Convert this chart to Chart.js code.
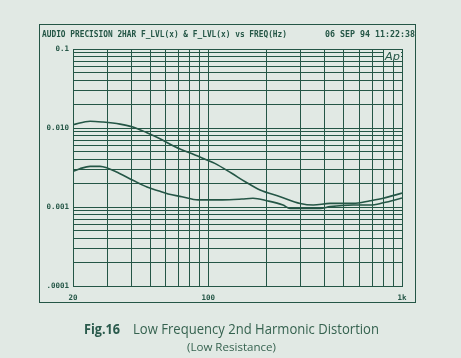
<!DOCTYPE html>
<html>
<head>
<meta charset="utf-8">
<script src="https://cdn.jsdelivr.net/npm/chart.js@4/dist/chart.umd.min.js"></script>
<style>
  html, body { margin: 0; padding: 0; background: #e1e9e4; }
  canvas { display: block; }
</style>
</head>
<body>
<canvas id="thd" width="461" height="358"></canvas>
<script>
// upper trace
const freqA = [20, 24.5, 28.6, 35, 40.8, 48.2, 56.3, 67.3, 85.3, 108, 132, 155, 185, 235, 298, 348, 425, 560, 685, 800, 1000];
const levelA = [0.0110, 0.0122, 0.0119, 0.0112, 0.0103, 0.0087, 0.0073, 0.0058, 0.00455, 0.00357, 0.00267, 0.00209, 0.00164, 0.00135, 0.00111, 0.00106, 0.00111, 0.00111, 0.0012, 0.00129, 0.0015];

// lower trace
const freqB = [20, 21.7, 24.5, 27.6, 30, 35, 40.8, 48.2, 56.3, 62, 73, 88.5, 118, 149, 170, 201, 243, 264, 378, 425, 560, 685, 800, 1000];
const levelB = [0.00283, 0.00305, 0.00327, 0.00327, 0.00312, 0.00264, 0.00218, 0.00179, 0.00158, 0.00146, 0.00135, 0.00123, 0.00123, 0.00126, 0.00129, 0.0012, 0.00106, 0.00096, 0.00096, 0.00101, 0.00106, 0.00106, 0.00113, 0.0013];

const xTicks = [20, 30, 40, 50, 60, 70, 80, 90, 100, 200, 300, 400, 500, 600, 700, 800, 900, 1000];
const xLabels = { 20: '20', 100: '100', 1000: '1k' };
const yTicks = [0.0001, 0.0002, 0.0003, 0.0004, 0.0005, 0.0006, 0.0007, 0.0008, 0.0009,
                0.001, 0.002, 0.003, 0.004, 0.005, 0.006, 0.007, 0.008, 0.009,
                0.01, 0.02, 0.03, 0.04, 0.05, 0.06, 0.07, 0.08, 0.09, 0.1];
const yLabels = { 0.0001: '.0001', 0.001: '0.001', 0.01: '0.010', 0.1: '0.1' };

const bg = '#e1e9e4';
const ink = '#245646';
const monoFont = { family: '"DejaVu Sans Mono", monospace', size: 7.5, weight: 'bold' };

function fitText(ctx, text, x, y, width) {
  const w = ctx.measureText(text).width;
  ctx.save();
  ctx.translate(x, y);
  ctx.scale(width / w, 1);
  ctx.fillText(text, 0, 0);
  ctx.restore();
}

const framePlugin = {
  id: 'frame',
  beforeDraw(chart) {
    const ctx = chart.ctx;
    ctx.save();
    ctx.fillStyle = bg;
    ctx.fillRect(0, 0, chart.width, chart.height);
    ctx.strokeStyle = ink;
    ctx.lineWidth = 1;
    ctx.strokeRect(39.5, 24.5, 376, 278);

    ctx.fillStyle = ink;
    ctx.font = 'bold 8px "DejaVu Sans Mono", monospace';
    ctx.textBaseline = 'middle';
    ctx.textAlign = 'left';
    fitText(ctx, 'AUDIO PRECISION 2HAR F_LVL(x) & F_LVL(x) vs FREQ(Hz)', 42, 35, 245);
    fitText(ctx, '06 SEP 94 11:22:38', 325, 35, 90);

    ctx.textBaseline = 'alphabetic';
    ctx.fillStyle = '#2a5a4c';
    ctx.font = 'bold 15px "Open Sans", sans-serif';
    fitText(ctx, 'Fig.16', 84, 334, 36);
    ctx.fillStyle = '#35624f';
    ctx.font = '14px "Open Sans", sans-serif';
    fitText(ctx, 'Low Frequency 2nd Harmonic Distortion', 133, 334, 246);
    ctx.font = '11px "Open Sans", sans-serif';
    fitText(ctx, '(Low Resistance)', 187, 351, 89);
    ctx.restore();
  },
  afterDraw(chart) {
    const ctx = chart.ctx;
    ctx.save();
    ctx.fillStyle = bg;
    ctx.fillRect(384, 50, 17, 11);
    ctx.fillStyle = ink;
    ctx.font = 'italic 11px "DejaVu Sans", sans-serif';
    ctx.textBaseline = 'alphabetic';
    fitText(ctx, 'Ap', 385, 59.5, 15);
    ctx.restore();
  }
};

const traceStyle = {
  borderColor: ink,
  borderWidth: 1.6,
  pointRadius: 0,
  fill: false,
  cubicInterpolationMode: 'monotone'
};

new Chart(document.getElementById('thd'), {
  type: 'line',
  data: {
    datasets: [
      Object.assign({ label: 'A', data: freqA.map((f, i) => ({ x: f, y: levelA[i] })) }, traceStyle),
      Object.assign({ label: 'B', data: freqB.map((f, i) => ({ x: f, y: levelB[i] })) }, traceStyle)
    ]
  },
  options: {
    responsive: false,
    animation: false,
    layout: { padding: { left: 40, right: 59, top: 49, bottom: 56 } },
    plugins: { legend: { display: false }, tooltip: { enabled: false } },
    scales: {
      x: {
        type: 'logarithmic',
        min: 20,
        max: 1000,
        afterBuildTicks: s => { s.ticks = xTicks.map(v => ({ value: v })); },
        afterFit: s => { s.height = 16; },
        grid: { color: ink, lineWidth: 1, drawTicks: false },
        border: { display: true, color: ink },
        ticks: {
          autoSkip: false,
          maxRotation: 0,
          padding: 8,
          color: ink,
          font: monoFont,
          callback: v => xLabels[v] || ''
        }
      },
      y: {
        type: 'logarithmic',
        min: 0.0001,
        max: 0.1,
        afterBuildTicks: s => { s.ticks = yTicks.map(v => ({ value: v })); },
        afterFit: s => { s.width = 33; },
        grid: { color: ink, lineWidth: 1, drawTicks: false },
        border: { display: true, color: ink },
        ticks: {
          autoSkip: false,
          padding: 4,
          color: ink,
          font: monoFont,
          callback: v => yLabels[v] || ''
        }
      }
    }
  },
  plugins: [framePlugin]
});
</script>
</body>
</html>
